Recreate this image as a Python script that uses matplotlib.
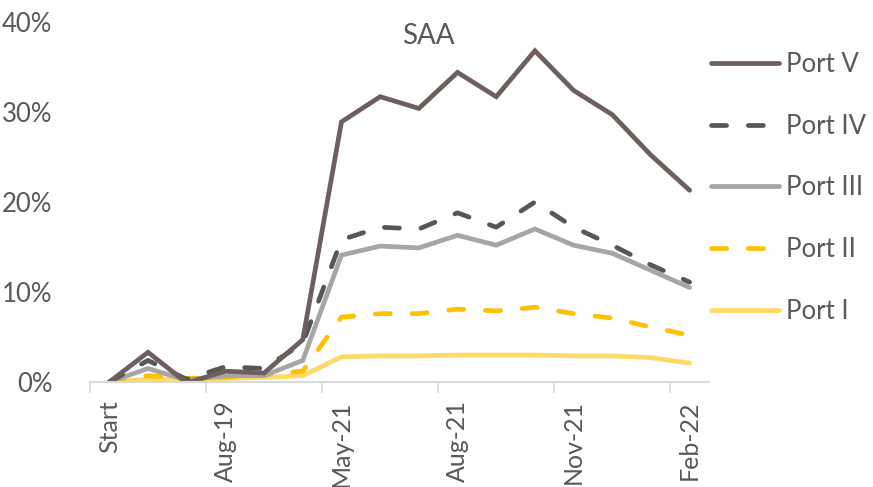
import matplotlib.pyplot as plt
from matplotlib.ticker import PercentFormatter

plt.rcParams['font.family'] = ['Lato', 'DejaVu Sans']

# 16 categories, only every third one is labelled on the axis
categories = ["Start", "", "", "Aug-19", "", "", "May-21", "", "",
              "Aug-21", "", "", "Nov-21", "", "", "Feb-22"]

port_v = [0.0, 3.3, -0.1, 1.2, 1.0, 4.7, 28.9, 31.7, 30.4, 34.4, 31.7, 36.8, 32.4, 29.7, 25.2, 21.3]
port_iv = [0.0, 2.4, 0.3, 1.7, 1.5, 4.3, 15.8, 17.2, 17.0, 18.8, 17.2, 20.0, 17.2, 15.2, 13.0, 11.1]
port_iii = [0.0, 1.5, 0.2, 0.7, 0.7, 2.4, 14.1, 15.1, 14.9, 16.3, 15.2, 17.0, 15.2, 14.3, 12.4, 10.5]
port_ii = [0.0, 0.7, 0.4, 0.5, 0.8, 1.2, 7.2, 7.6, 7.6, 8.1, 7.9, 8.3, 7.6, 7.1, 6.1, 5.2]
port_i = [0.0, 0.3, 0.3, 0.4, 0.5, 0.7, 2.8, 2.9, 2.9, 3.0, 3.0, 3.0, 2.9, 2.9, 2.7, 2.1]

TEXT = "#595959"
series = [
    ("Port V", port_v, "#6E5E5E", "-"),
    ("Port IV", port_iv, "#575757", (0, (3.2, 4.6))),
    ("Port III", port_iii, "#A6A6A6", "-"),
    ("Port II", port_ii, "#FFC000", (0, (3.2, 4.6))),
    ("Port I", port_i, "#FFD966", "-"),
]

fig = plt.figure(figsize=(8.73, 4.87), dpi=100)
ax = fig.add_axes([90 / 873, 1 - 382 / 487, 619 / 873, 360 / 487])

x = list(range(len(categories)))
# draw bottom series first so Port V sits on top
for name, vals, color, ls in reversed(series):
    ax.plot(x, [v / 100 for v in vals], color=color, lw=3.4, ls=ls,
            solid_capstyle="round", dash_capstyle="round",
            solid_joinstyle="miter", label=name)

ax.set_xlim(-0.5, len(categories) - 0.5)
ax.set_ylim(0, 0.40)
ax.set_yticks([0, 0.1, 0.2, 0.3, 0.4])
ax.yaxis.set_major_formatter(PercentFormatter(1.0, decimals=0))
ax.tick_params(axis="y", length=0, pad=27, labelsize=18.5, labelcolor=TEXT)

major = [i for i in x if categories[i]]
ax.set_xticks(major)
ax.set_xticklabels([categories[i] for i in major], rotation=90, va="top", ha="center")
ax.set_xticks([i - 0.5 for i in range(0, len(categories), 3)], minor=True)
ax.tick_params(axis="x", which="major", length=0, pad=13, labelsize=18, labelcolor=TEXT)
ax.tick_params(axis="x", which="minor", length=8, width=1.2, color="#D9D9D9")

for s in ["top", "right", "left"]:
    ax.spines[s].set_visible(False)
ax.spines["bottom"].set_color("#D9D9D9")
ax.spines["bottom"].set_linewidth(1.5)

fig.text(428 / 873, 1 - 36 / 487, "SAA", ha="center", va="center", fontsize=20, color=TEXT)

handles, labels = ax.get_legend_handles_labels()
leg = fig.legend(handles[::-1], labels[::-1], loc="upper left",
                 bbox_to_anchor=(711 / 873, 1 - 52 / 487), frameon=False,
                 fontsize=18.5, handlelength=2.65, handletextpad=0.25,
                 labelspacing=1.43, borderpad=0, borderaxespad=0)
for t in leg.get_texts():
    t.set_color(TEXT)

fig.savefig("out.png", dpi=100)
